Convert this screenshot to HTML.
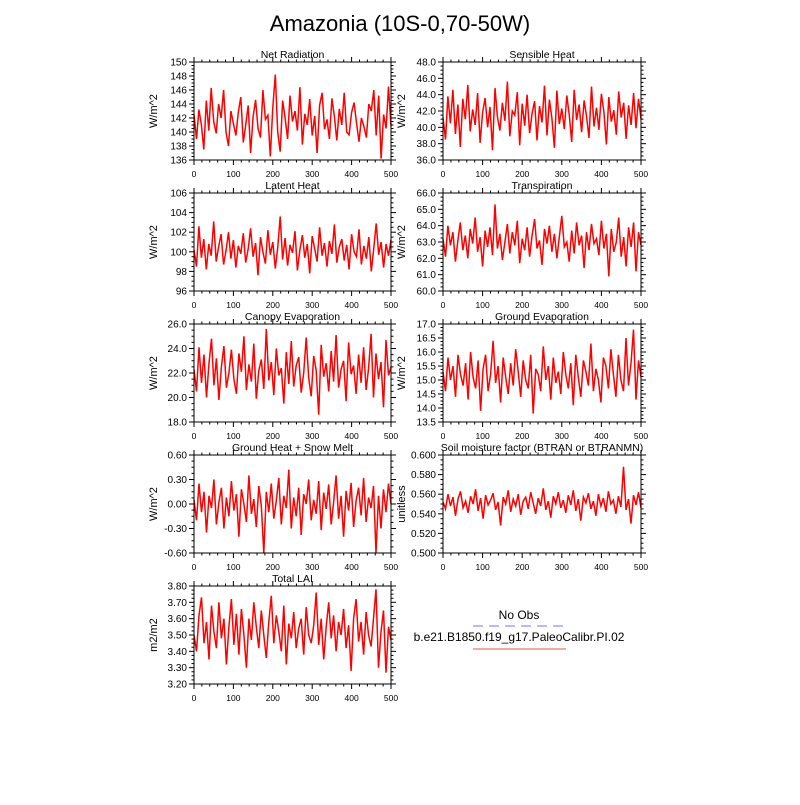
<!DOCTYPE html>
<html><head><meta charset="utf-8"><style>
body{margin:0;background:#fff;font-family:"Liberation Sans",sans-serif}
svg text{font-family:"Liberation Sans",sans-serif;fill:#000}
</style></head><body>
<svg id="c" width="800" height="800">
<rect width="800" height="800" fill="#fff"/>
<text x="400" y="31" font-size="22" text-anchor="middle">Amazonia (10S-0,70-50W)</text>
<g>
<text x="519" y="619" font-size="12" text-anchor="middle">No Obs</text>
<line x1="473" y1="626" x2="566" y2="626" stroke="#6a7bff" stroke-dasharray="10,6"/>
<text x="519" y="641" font-size="12" text-anchor="middle">b.e21.B1850.f19_g17.PaleoCalibr.PI.02</text>
<line x1="473" y1="649" x2="566" y2="649" stroke="#e05050"/>
</g>
</svg>
<script>
const netRad=[142.5,139,143.2,141,137.5,144.5,140.2,146.3,141.5,139.8,144,142,146,140,138,143,141.2,139.5,142.8,145,138.5,141,143.8,137,142.2,144.6,140.5,139.2,146,141.8,142.4,136.5,143.5,148.2,140,137.2,144.5,142,139,145.2,141.5,143,140.2,146.4,138.2,142.6,141,144.7,139.5,142.3,137,143.8,145.6,140.4,141.8,139,144.8,142.2,138.8,143.3,141,145.6,140,139.6,142.8,144.2,141.3,138.6,142,140.8,139.2,144,143,146,139.5,145.2,136.2,142.5,140.5,146.5,140.8];
const sensHeat=[41.2,38.5,43.8,40.5,44.6,39.2,42.8,37.6,43.5,41,45.2,39.5,42.2,40.3,44.2,38.1,41.8,43.6,40,42.5,37.2,44.8,41.3,39.6,43,40.8,45.6,38.9,42,41.5,44.3,37.8,42.9,40.2,44,39.3,41.7,43.2,38.4,42.6,40.6,45.1,39,43.4,41.1,37.5,44.5,40.4,42.3,39.8,43.9,41.6,38.2,44.6,40.9,42.8,39.4,43.3,41.4,38.7,45,40.1,42.4,39.7,44.1,41.9,37.9,43.7,40.7,42.1,39.1,44.4,41.2,43,38.6,42.7,40.3,44.2,39.9,43.5,41];
const latHeat=[100.2,98.5,102.6,99.4,101.3,98.2,100.8,99.6,103.1,99,100.5,101.8,98.7,100.1,102,99.3,101.2,98.4,100.6,99.8,101.9,98.9,100.3,102.4,99.5,100.9,97.6,101.5,100,98.8,102.2,99.7,101,98.3,100.4,103.6,99.2,101.4,98.6,100.7,99.9,102.1,98.1,100.2,101.7,99.4,100.8,97.8,101.6,100.3,99,102.5,99.6,100.9,98.5,101.1,99.8,102.8,98.9,100.5,101.3,99.1,100.7,98.2,101.8,100,99.5,102.3,98.7,100.6,99.3,101.5,98,100.4,102.9,99.7,101,98.4,100.8,99.6,101.2];
const transp=[63.2,62.1,64,62.8,63.6,61.8,63.1,64.2,62.5,63.4,62,63.8,62.9,64.5,62.4,63.3,61.5,63.7,62.7,63.9,62.2,65.3,62.6,63.5,61.9,63,64.1,62.3,63.6,62.8,64.3,61.7,63.2,62.5,63.9,62.1,63.4,64.4,62.6,63.1,61.6,63.8,62.9,64,62.4,63.5,62,63.3,64.6,62.7,63,61.8,63.7,62.3,64.2,62.8,63.4,61.4,63.6,62.5,64.1,62.9,63.2,62.2,64.3,62.6,63.5,60.9,63.8,62.4,63,64.5,62.1,63.3,61.5,63.9,62.7,64.2,61.2,63.6,62.8];
const canEvap=[22.3,20.5,24.1,21.2,23.5,20,22.8,24.8,21,23.2,19.8,22.5,24.2,20.8,22,23.9,21.5,20.3,23.6,22.1,25,20.6,22.7,21.3,24.4,19.9,22.2,23.1,20.7,25.6,21.4,22.9,20.2,24,21.8,22.4,19.5,23.7,21.1,24.6,20.9,22.6,23.3,20.4,22,24.9,21.6,20.1,23.4,22.2,18.6,24.3,21.7,22.8,20.5,23.8,21.3,25.1,20.8,22.3,23,19.7,24.5,21.9,22.6,20.3,23.5,21.2,24.1,20.6,22.4,25.2,20,23.6,21.5,22.9,19.2,24.7,21.8,22.5];
const grdEvap=[15.3,14.6,15.8,15,15.5,14.4,15.9,15.2,14.8,15.6,14.3,16,15.1,14.7,15.7,13.9,15.4,15.9,14.6,15.2,16.4,14.9,15.5,14.2,15.8,15.1,14.5,15.6,14.8,16.1,15.3,14.4,15.7,15,14.7,15.9,13.8,15.4,15.2,14.6,16.2,15,15.5,14.3,15.8,14.9,15.3,14.5,16,15.2,14.7,15.6,14.1,15.9,15.1,14.4,15.7,15.3,14.8,16.3,14.6,15.4,15,14.2,15.8,15.5,14.7,16.1,15.2,14.4,15.9,15,14.6,16.5,14.8,15.6,16.8,14.3,15.7,15.1];
const grdHeat=[0.05,-0.2,0.25,-0.1,0.15,-0.35,0.1,-0.05,0.3,-0.25,0.02,0.2,-0.3,0.08,-0.15,0.28,-0.08,0.12,-0.4,0.18,0,-0.22,0.35,-0.12,0.06,-0.28,0.22,-0.02,-0.6,0.15,-0.1,0.25,-0.18,0.04,0.32,-0.25,0.1,-0.05,0.42,-0.3,0.08,-0.15,0.2,-0.38,0.12,0,0.3,-0.2,0.05,-0.12,0.28,-0.32,0.14,-0.06,0.24,-0.25,0.02,0.35,-0.18,0.1,-0.4,0.16,-0.08,0.26,-0.28,0.04,0.2,-0.14,0.32,-0.22,0.08,-0.05,0.22,-0.6,0.1,-0.3,0.18,-0.1,0.25,0];
const soilMoist=[0.552,0.545,0.56,0.548,0.557,0.538,0.555,0.563,0.546,0.553,0.541,0.558,0.55,0.565,0.543,0.556,0.535,0.559,0.549,0.554,0.561,0.544,0.552,0.528,0.557,0.55,0.564,0.542,0.555,0.548,0.56,0.539,0.553,0.557,0.545,0.562,0.551,0.54,0.556,0.548,0.566,0.544,0.553,0.536,0.558,0.55,0.562,0.546,0.554,0.541,0.559,0.549,0.564,0.543,0.555,0.533,0.557,0.551,0.561,0.545,0.553,0.538,0.56,0.548,0.556,0.542,0.563,0.55,0.554,0.54,0.558,0.547,0.588,0.544,0.555,0.53,0.559,0.549,0.562,0.546];
const totLai=[3.5,3.4,3.62,3.73,3.45,3.58,3.35,3.68,3.52,3.42,3.7,3.48,3.6,3.32,3.55,3.72,3.44,3.63,3.38,3.66,3.5,3.3,3.6,3.47,3.7,3.55,3.42,3.65,3.5,3.36,3.58,3.74,3.45,3.62,3.52,3.4,3.68,3.32,3.57,3.48,3.64,3.42,3.54,3.6,3.38,3.67,3.5,3.45,3.56,3.76,3.44,3.6,3.35,3.55,3.7,3.48,3.62,3.4,3.58,3.5,3.66,3.42,3.56,3.28,3.6,3.72,3.46,3.58,3.38,3.64,3.5,3.43,3.6,3.78,3.3,3.52,3.65,3.27,3.55,3.47];
const xTicks=[0,100,200,300,400,500];
const yTicks1=["136","138","140","142","144","146","148","150"];
const yTicks2=["36.0","38.0","40.0","42.0","44.0","46.0","48.0"];
const yTicks3=["96","98","100","102","104","106"];
const yTicks4=["60.0","61.0","62.0","63.0","64.0","65.0","66.0"];
const yTicks5=["18.0","20.0","22.0","24.0","26.0"];
const yTicks6=["13.5","14.0","14.5","15.0","15.5","16.0","16.5","17.0"];
const yTicks7=["-0.60","-0.30","0.00","0.30","0.60"];
const yTicks8=["0.500","0.520","0.540","0.560","0.580","0.600"];
const yTicks9=["3.20","3.30","3.40","3.50","3.60","3.70","3.80"];
const panels=[
 {name:"net-radiation",title:"Net Radiation",unit:"W/m^2",d:netRad,t:yTicks1,col:0,row:0},
 {name:"sensible-heat",title:"Sensible Heat",unit:"W/m^2",d:sensHeat,t:yTicks2,col:1,row:0},
 {name:"latent-heat",title:"Latent Heat",unit:"W/m^2",d:latHeat,t:yTicks3,col:0,row:1},
 {name:"transpiration",title:"Transpiration",unit:"W/m^2",d:transp,t:yTicks4,col:1,row:1},
 {name:"canopy-evaporation",title:"Canopy Evaporation",unit:"W/m^2",d:canEvap,t:yTicks5,col:0,row:2},
 {name:"ground-evaporation",title:"Ground Evaporation",unit:"W/m^2",d:grdEvap,t:yTicks6,col:1,row:2},
 {name:"ground-heat",title:"Ground Heat + Snow Melt",unit:"W/m^2",d:grdHeat,t:yTicks7,col:0,row:3},
 {name:"soil-moisture",title:"Soil moisture factor (BTRAN or BTRANMN)",unit:"unitless",d:soilMoist,t:yTicks8,col:1,row:3},
 {name:"total-lai",title:"Total LAI",unit:"m2/m2",d:totLai,t:yTicks9,col:0,row:4}
];
const NS="http://www.w3.org/2000/svg";
const svg=document.getElementById('c');
function mk(tag,attrs,parent){const e=document.createElementNS(NS,tag);for(const k in attrs)e.setAttribute(k,attrs[k]);parent.appendChild(e);return e;}
panels.forEach(p=>{
 const L=p.col?443:194, R=p.col?641:391, T=62+p.row*131, B=T+98;
 const g=mk('g',{},svg);
 
 
 const ymin=parseFloat(p.t[0]), ymax=parseFloat(p.t[p.t.length-1]);
 const xs=v=>L+(v/500)*(R-L);
 const ys=v=>B-(v-ymin)/(ymax-ymin)*(B-T);
 const n=p.d.length;
 const pts=p.d.map((v,i)=>xs(i*500/(n-1)).toFixed(1)+","+ys(v).toFixed(1)).join(" ");
 const line=mk('polyline',{points:pts,fill:'none',stroke:'#ff0000','stroke-width':1.5},g);
 
 
 const fr=mk('rect',{x:L,y:T,width:R-L,height:B-T,fill:'none',stroke:'#000','stroke-width':1},g);
 
 
 xTicks.forEach((v,i)=>{
  const x=xs(v);
  mk('line',{x1:x,y1:B,x2:x,y2:B+5,stroke:'#000'},g);
  mk('line',{x1:x,y1:T,x2:x,y2:T-5,stroke:'#000'},g);
  if(i<5)for(let k=1;k<5;k++){const xm=xs(v+k*20);mk('line',{x1:xm,y1:B,x2:xm,y2:B+2.5,stroke:'#000'},g);mk('line',{x1:xm,y1:T,x2:xm,y2:T-2.5,stroke:'#000'},g);}
  const tx=mk('text',{x:x,y:B+17,'font-size':8.5,'text-anchor':'middle'},g);
  tx.textContent=v;
  
  
 });
 p.t.forEach((s,i)=>{
  const y=ys(parseFloat(s));
  mk('line',{x1:L,y1:y,x2:L-5,y2:y,stroke:'#000'},g);
  mk('line',{x1:R,y1:y,x2:R+5,y2:y,stroke:'#000'},g);
  if(i<p.t.length-1){const step=(parseFloat(p.t[1])-parseFloat(p.t[0]));for(let k=1;k<4;k++){const ym=ys(parseFloat(s)+k*step/4);mk('line',{x1:L,y1:ym,x2:L-2.5,y2:ym,stroke:'#000'},g);mk('line',{x1:R,y1:ym,x2:R+2.5,y2:ym,stroke:'#000'},g);}}
  const ty=mk('text',{x:L-7,y:y+3.5,'font-size':10,'text-anchor':'end'},g);
  ty.textContent=s;
  
  
 });
 const tt=mk('text',{x:(L+R)/2,y:T-4,'font-size':10.5,'text-anchor':'middle'},g);
 tt.textContent=p.title;
 
 
 const lx=p.col?405:157;
 const yl=mk('text',{x:lx,y:(T+B)/2,'font-size':11,'text-anchor':'middle',transform:`rotate(-90 ${lx} ${(T+B)/2})`},g);
 yl.textContent=p.unit;
 
 
});
</script>
</body></html>
